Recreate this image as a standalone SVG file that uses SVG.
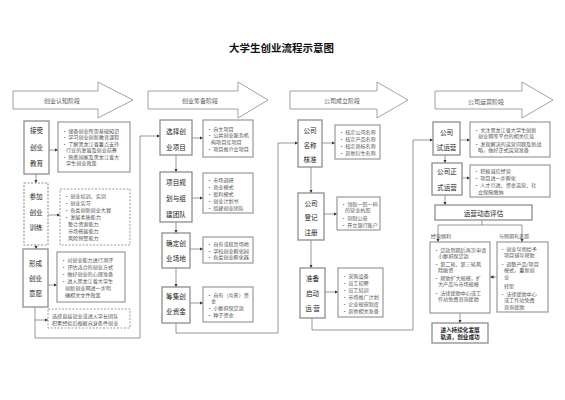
<svg xmlns="http://www.w3.org/2000/svg" width="565" height="400" viewBox="0 0 565 400">
<style>
text{font-family:"Noto Sans CJK SC","Noto Sans",sans-serif;fill:#333;dominant-baseline:central}
.title{font-size:10.5px;font-weight:bold;fill:#111;text-anchor:middle}
.stage{fill:#fff;stroke:#8c8c8c;stroke-width:0.8}
.sl{font-size:6px;text-anchor:middle;fill:#555}
.nb{fill:#fff;stroke:#8e8e8e;stroke-width:1.3}
.nbd{fill:#fff;stroke:#8e8e8e;stroke-width:1.1;stroke-dasharray:2 1.5}
.db{fill:#fff;stroke:#999;stroke-width:1.2}
.dbd{fill:#fff;stroke:#999;stroke-width:1;stroke-dasharray:2 1.5}
.nt{font-size:6.6px;text-anchor:middle;fill:#222}
.dt{font-size:5.1px;fill:#555}
.bl{font-size:5.1px;fill:#555;text-anchor:middle}
.bt{font-size:5.6px;font-weight:bold;text-anchor:middle;fill:#222}
.cn{fill:none;stroke:#555;stroke-width:0.6}
</style>
<defs>
<marker id="ah" viewBox="0 0 10 10" refX="10" refY="5" markerWidth="3.5" markerHeight="3.5" markerUnits="userSpaceOnUse" orient="auto">
<path d="M0,0 L10,5 L0,10 z" fill="#333"/>
</marker>
</defs>
<rect width="565" height="400" fill="#fff"/>
<text class="title" x="281.5" y="47">大学生创业流程示意图</text>

<g id="stage1"><polygon class="stage" points="13,91 98,91 98,82 133,100 98,118 98,109 13,109"/><text class="sl" x="62" y="100">创业认知阶段</text></g>
<g id="stage2"><polygon class="stage" points="148,91 238,91 238,82 268,100 238,118 238,109 148,109"/><text class="sl" x="200" y="100">创业筹备阶段</text></g>
<g id="stage3"><polygon class="stage" points="290,91 377,91 377,82 408,100 377,118 377,109 290,109"/><text class="sl" x="342" y="100">公司成立阶段</text></g>
<g id="stage4"><polygon class="stage" points="435,91 522,91 522,82 553,100 522,118 522,109 435,109"/><text class="sl" x="486" y="101">公司运营阶段</text></g>

<g id="connectors">
<path class="cn" d="M49,150 H58" marker-end="url(#ah)"/>
<path class="cn" d="M36,174 V183" marker-end="url(#ah)"/>
<path class="cn" d="M48,215 H60" marker-end="url(#ah)"/>
<path class="cn" d="M36,245 V249" marker-end="url(#ah)"/>
<path class="cn" d="M48,285 H57" marker-end="url(#ah)"/>
<path class="cn" d="M35,307 V320 H48" marker-end="url(#ah)"/>
<path class="cn" d="M35,320 V338 H140 V136 H160" marker-end="url(#ah)"/>
<path class="cn" d="M192,138 H203" marker-end="url(#ah)"/>
<path class="cn" d="M176,155 V172" marker-end="url(#ah)"/>
<path class="cn" d="M192,198 H203" marker-end="url(#ah)"/>
<path class="cn" d="M176,222 V233" marker-end="url(#ah)"/>
<path class="cn" d="M190,249 H203" marker-end="url(#ah)"/>
<path class="cn" d="M176,268 V287" marker-end="url(#ah)"/>
<path class="cn" d="M190,303 H203" marker-end="url(#ah)"/>
<path class="cn" d="M176,323 V333 H278 V143 H298" marker-end="url(#ah)"/>
<path class="cn" d="M322,143 H335" marker-end="url(#ah)"/>
<path class="cn" d="M311,167 V193" marker-end="url(#ah)"/>
<path class="cn" d="M324,214 H337" marker-end="url(#ah)"/>
<path class="cn" d="M311,240 V268" marker-end="url(#ah)"/>
<path class="cn" d="M325,292 H338" marker-end="url(#ah)"/>
<path class="cn" d="M312,318 V330 H413 V140 H433" marker-end="url(#ah)"/>
<path class="cn" d="M460,140 H470" marker-end="url(#ah)"/>
<path class="cn" d="M445,155 V163" marker-end="url(#ah)"/>
<path class="cn" d="M462,178 H470" marker-end="url(#ah)"/>
<path class="cn" d="M445,195 V205" marker-end="url(#ah)"/>
<path class="cn" d="M482,220 V225 M438,225 H522"/>
<path class="cn" d="M438,225 V242" marker-end="url(#ah)"/>
<path class="cn" d="M522,225 V242" marker-end="url(#ah)"/>
<path class="cn" d="M497,277 H490" marker-end="url(#ah)"/>
<path class="cn" d="M460,313 V323" marker-end="url(#ah)"/>
</g>

<g id="n-jieshou"><rect class="nb" x="24" y="121" width="25" height="53"/>
<text class="nt" x="36.5" y="130">接受</text><text class="nt" x="36.5" y="147">创业</text><text class="nt" x="36.5" y="163">教育</text></g>
<g id="d-jieshou"><rect class="db" x="58" y="122" width="72" height="50"/>
<text class="dt" x="62" y="130">• 储备创业所需基础知识</text>
<text class="dt" x="62" y="136.5">• 学习创业创新教育课程</text>
<text class="dt" x="62" y="143">• 了解黑龙江省重点支持</text>
<text class="dt" x="66" y="149.5">行业的发展及创业前景</text>
<text class="dt" x="62" y="156">• 熟悉国家及黑龙江省大</text>
<text class="dt" x="66" y="162.5">学生创业政策</text></g>

<g id="n-canjia"><rect class="nbd" x="24" y="183" width="24" height="62"/>
<text class="nt" x="36" y="196">参加</text><text class="nt" x="36" y="212">创业</text><text class="nt" x="36" y="227">训练</text></g>
<g id="d-canjia"><rect class="dbd" x="60" y="189" width="70" height="56"/>
<text class="dt" x="64" y="195">• 创业培训、实训</text>
<text class="dt" x="64" y="202">• 创业实习</text>
<text class="dt" x="64" y="209">• 各类创新创业大赛</text>
<text class="dt" x="64" y="216">• 发展素质能力</text>
<text class="dt" x="68" y="223">整合资源能力</text>
<text class="dt" x="68" y="230">市场拓展能力</text>
<text class="dt" x="68" y="237">风险预警能力</text></g>

<g id="n-xingcheng"><rect class="nb" x="23" y="249" width="25" height="58"/>
<text class="nt" x="35.5" y="263">形成</text><text class="nt" x="35.5" y="278">创业</text><text class="nt" x="35.5" y="293">意愿</text></g>
<g id="d-xingcheng"><rect class="db" x="57" y="252" width="68" height="50"/>
<text class="dt" x="61" y="259">• 对创业能力进行测评</text>
<text class="dt" x="61" y="266">• 评估适合的创业方式</text>
<text class="dt" x="61" y="273">• 做好创业的心理准备</text>
<text class="dt" x="61" y="280">• 进入黑龙江省大学生</text>
<text class="dt" x="65" y="287">创新创业网进一步明</text>
<text class="dt" x="65" y="294">确相关文件政策</text></g>

<g id="d-jiuye"><rect class="dbd" x="48" y="309" width="82" height="19"/>
<text class="dt" x="52" y="315">选择直接就业或进入学长团队</text>
<text class="dt" x="52" y="322">积累经验后根据自身条件创业</text></g>

<g id="n-xiangmu"><rect class="nb" x="160" y="120" width="32" height="35"/>
<text class="nt" x="176" y="131">选择创</text><text class="nt" x="176" y="147">业项目</text></g>
<g id="d-xiangmu"><rect class="db" x="203" y="120" width="50" height="37"/>
<text class="dt" x="207" y="128">• 自主项目</text>
<text class="dt" x="207" y="134.5">• 公共创业服务机</text>
<text class="dt" x="211" y="141">构项目库项目</text>
<text class="dt" x="207" y="148">• 项目推介会项目</text></g>

<g id="n-guihua"><rect class="nb" x="160" y="172" width="32" height="50"/>
<text class="nt" x="176" y="182">项目规</text><text class="nt" x="176" y="198">划与组</text><text class="nt" x="176" y="214">建团队</text></g>
<g id="d-guihua"><rect class="db" x="203" y="173" width="50" height="40"/>
<text class="dt" x="207" y="179">• 市场调研</text>
<text class="dt" x="207" y="186">• 商业模式</text>
<text class="dt" x="207" y="193">• 盈利模式</text>
<text class="dt" x="207" y="200">• 创业计划书</text>
<text class="dt" x="207" y="207">• 组建创业团队</text></g>

<g id="n-changdi"><rect class="nb" x="162" y="233" width="28" height="35"/>
<text class="nt" x="176" y="243">确定创</text><text class="nt" x="176" y="258">业场地</text></g>
<g id="d-changdi"><rect class="db" x="203" y="237" width="50" height="26"/>
<text class="dt" x="207" y="243.5">• 自有或租赁场地</text>
<text class="dt" x="207" y="250">• 学校创业孵化园</text>
<text class="dt" x="207" y="256.5">• 各类创业孵化器</text></g>

<g id="n-zijin"><rect class="nb" x="162" y="287" width="28" height="36"/>
<text class="nt" x="176" y="296">筹集创</text><text class="nt" x="176" y="311">业资金</text></g>
<g id="d-zijin"><rect class="db" x="203" y="287" width="50" height="35"/>
<text class="dt" x="207" y="294">• 自有（众筹）资</text>
<text class="dt" x="211" y="300">金</text>
<text class="dt" x="207" y="307">• 小额担保贷款</text>
<text class="dt" x="207" y="314">• 种子资金</text></g>

<g id="n-mingcheng"><rect class="nb" x="298" y="120" width="24" height="47"/>
<text class="nt" x="310" y="130">公司</text><text class="nt" x="310" y="145">名称</text><text class="nt" x="310" y="159">核准</text></g>
<g id="d-mingcheng"><rect class="db" x="335" y="125" width="45" height="34"/>
<text class="dt" x="339" y="131">• 核定公司名称</text>
<text class="dt" x="339" y="138">• 核定产品名称</text>
<text class="dt" x="339" y="145">• 核定商标名称</text>
<text class="dt" x="339" y="152">• 其他衍生名称</text></g>

<g id="n-dengji"><rect class="nb" x="298" y="193" width="26" height="47"/>
<text class="nt" x="311" y="203">公司</text><text class="nt" x="311" y="217">登记</text><text class="nt" x="311" y="232">注册</text></g>
<g id="d-dengji"><rect class="db" x="337" y="197" width="43" height="33"/>
<text class="dt" x="341" y="203">• 领取一照一码</text>
<text class="dt" x="345" y="209.5">的营业执照</text>
<text class="dt" x="341" y="217">• 刻制公章</text>
<text class="dt" x="341" y="224">• 开立银行账户</text></g>

<g id="n-yunying"><rect class="nb" x="300" y="268" width="25" height="50"/>
<text class="nt" x="312.5" y="278">准备</text><text class="nt" x="312.5" y="293">启动</text><text class="nt" x="312.5" y="308">运 营</text></g>
<g id="d-yunying"><rect class="db" x="338" y="268" width="45" height="49"/>
<text class="dt" x="342" y="275">• 采购设备</text>
<text class="dt" x="342" y="282">• 员工招聘</text>
<text class="dt" x="342" y="289">• 员工培训</text>
<text class="dt" x="342" y="296">• 市场推广计划</text>
<text class="dt" x="342" y="303">• 企业规章制度</text>
<text class="dt" x="342" y="310">• 其他相关准备</text></g>

<g id="n-shiyunying"><rect class="nb" x="433" y="122" width="27" height="33"/>
<text class="nt" x="446.5" y="132">公司</text><text class="nt" x="446.5" y="147">试运营</text></g>
<g id="d-shiyunying"><rect class="db" x="470" y="122" width="80" height="35"/>
<text class="dt" x="474" y="129">• 关注黑龙江省大学生创新</text>
<text class="dt" x="478" y="135">创业网等平台的相关信息</text>
<text class="dt" x="474" y="143">• 发现解决的运营问题及新战</text>
<text class="dt" x="478" y="149">略，做好正式运营准备</text></g>

<g id="n-zhengshi"><rect class="nb" x="432" y="163" width="30" height="32"/>
<text class="nt" x="447" y="171">公司正</text><text class="nt" x="447" y="187">式运营</text></g>
<g id="d-zhengshi"><rect class="db" x="470" y="165" width="80" height="32"/>
<text class="dt" x="474" y="170.5">• 积极诚信经营</text>
<text class="dt" x="474" y="177.5">• 项目进一步孵化</text>
<text class="dt" x="474" y="184.5">• 人才引进、资金运营、社</text>
<text class="dt" x="478" y="191">会保障缴纳</text></g>

<g id="n-pinggu"><rect class="nb" x="435" y="205" width="97" height="15"/>
<text class="nt" x="483.5" y="212.5">运营动态评估</text></g>

<g id="l-shunli"><text class="bl" x="441" y="235">经营顺利</text></g>
<g id="l-chaju"><text class="bl" x="514" y="235">与预期有差距</text></g>

<g id="d-shunli"><rect class="db" x="430" y="242" width="60" height="71"/>
<text class="dt" x="434" y="249">• 贷款到期后再次申请</text>
<text class="dt" x="438" y="255">小额担保贷款</text>
<text class="dt" x="434" y="263">• 第二轮、第三轮风</text>
<text class="dt" x="438" y="269">险融资</text>
<text class="dt" x="434" y="277">• 帮助扩大规模，扩</text>
<text class="dt" x="438" y="283">大产品与市场规模</text>
<text class="dt" x="434" y="292">• 法律援助中心或工</text>
<text class="dt" x="438" y="298">作站免费咨询援助</text></g>

<g id="d-chaju"><rect class="db" x="497" y="242" width="51" height="70"/>
<text class="dt" x="500" y="248">• 创业导师给予</text>
<text class="dt" x="504" y="254">项目辅导帮助</text>
<text class="dt" x="500" y="263">• 调整产品/项目</text>
<text class="dt" x="504" y="269">模式，重新创</text>
<text class="dt" x="504" y="276">业</text>
<text class="dt" x="504" y="285">转型</text>
<text class="dt" x="500" y="293">• 法律援助中心</text>
<text class="dt" x="504" y="299">或工作站免费</text>
<text class="dt" x="504" y="306">咨询援助</text></g>

<g id="n-chenggong"><rect class="nb" x="432" y="323" width="56" height="20"/>
<text class="bt" x="460" y="329.5">进入持续化发展</text>
<text class="bt" x="460" y="337">轨道，创业成功</text></g>
</svg>
